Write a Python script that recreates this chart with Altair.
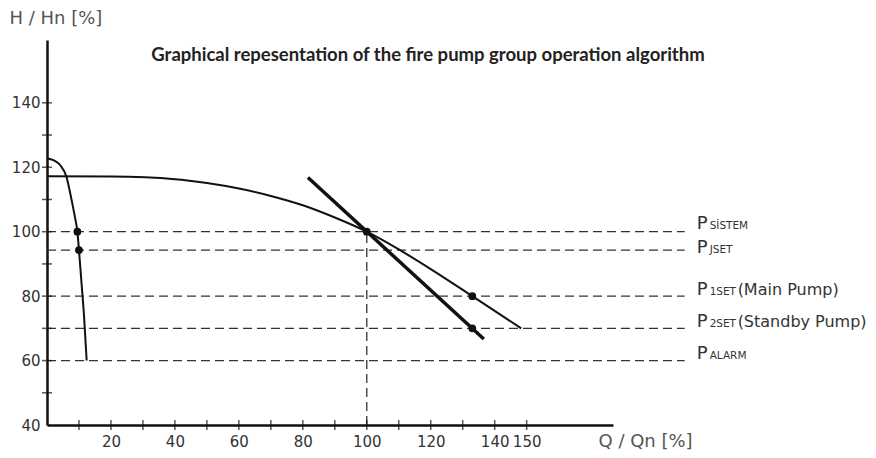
import altair as alt
import pandas as pd

# ---- data ----
title_text = ["Graphical repesentation of the fire pump group operation algorithm"]

steep_q = [0, 2, 4.1, 6.1, 7.7, 8.7, 9.5, 10.0, 10.8, 11.6, 12.4]
steep_h = [122.8, 122.2, 120.7, 117, 109.8, 104.7, 100, 94.3, 84, 73.6, 60]

pump_q = [0, 20, 40, 50, 60, 70, 80, 90, 100, 110, 120, 133, 148.3]
pump_h = [117.2, 117.1, 116.3, 115.1, 113.4, 111.1, 108.2, 104.4, 100, 94.5, 88.4, 80, 70]

sys_q = [81.6, 136.6]
sys_h = [116.8, 66.7]

dot_q = [9.5, 10.0, 100, 133, 133]
dot_h = [100, 94.3, 100, 80, 70]

level_h = [100, 94.3, 80, 70, 60]
label_h = [100.8, 93.4, 80.2, 70.4, 60.5]
level_sub = ["SİSTEM", "JSET", "1SET", "2SET", "ALARM"]
level_rest = ["", "", "(Main Pump)", "(Standby Pump)", ""]
level_end = 199.4

vline_q = 100
vline_h = [40, 100]

x_ticks = list(range(10, 160, 10))
x_labels = [20, 40, 60, 80, 100, 120, 140, 150]
y_ticks = list(range(50, 150, 10))
y_labels = [40, 60, 80, 100, 120, 140]

x_domain = [0, 177]
y_domain = [40, 159.5]

TFONT = "Lato, Roboto, sans-serif"
FONT = "DejaVu Sans, sans-serif"

xs = alt.Scale(domain=x_domain, nice=False, zero=False)
ys = alt.Scale(domain=y_domain, nice=False, zero=False)

steep_df = pd.DataFrame({"q": steep_q, "h": steep_h, "o": range(len(steep_q))})
pump_df = pd.DataFrame({"q": pump_q, "h": pump_h, "o": range(len(pump_q))})
sys_df = pd.DataFrame({"q": sys_q, "h": sys_h})
dot_df = pd.DataFrame({"q": dot_q, "h": dot_h})
lev_df = pd.DataFrame({"h": level_h, "lh": label_h, "q0": [0] * len(level_h),
                       "q1": [level_end] * len(level_h),
                       "p": ["P"] * len(level_h), "sub": level_sub, "rest": level_rest})
vl_df = pd.DataFrame({"q": [vline_q], "h0": [vline_h[0]], "h1": [vline_h[1]]})
xt_df = pd.DataFrame({"q": x_ticks, "h": [y_domain[0]] * len(x_ticks)})
yt_df = pd.DataFrame({"q": [0] * len(y_ticks), "h": y_ticks})
title_df = pd.DataFrame({"t": title_text})

axis_x = alt.Axis(values=x_labels, ticks=False, grid=False, domainColor="#111", domainWidth=2.5,
                  labelFont=FONT, labelFontSize=15, labelColor="#333", labelPadding=21,
                  labelBaseline="alphabetic",
                  labelOverlap=False, labelFlush=False,
                  title="Q / Qn [%]", titleFont=FONT, titleFontSize=18, titleFontWeight="normal",
                  titleColor="#555", titleAlign="left", titleBaseline="alphabetic", titleX=551, titleY=21,
                  titleAngle=0)
axis_y = alt.Axis(values=y_labels, ticks=False, grid=False, domainColor="#111", domainWidth=2.5,
                  labelFont=FONT, labelFontSize=15, labelColor="#333", labelPadding=7,
                  labelOverlap=False, labelFlush=False,
                  title="H / Hn [%]", titleFont=FONT, titleFontSize=18, titleFontWeight="normal",
                  titleColor="#555", titleAlign="left", titleBaseline="middle", titleX=-38, titleY=-22,
                  titleAngle=0)

levels = alt.Chart(lev_df).mark_rule(color="#333", strokeDash=[9, 5], strokeWidth=1.3).encode(
    x=alt.X("q0:Q", scale=xs, axis=axis_x), x2="q1", y=alt.Y("h:Q", scale=ys, axis=axis_y))

vline = alt.Chart(vl_df).mark_rule(color="#333", strokeDash=[9, 5], strokeWidth=1.3).encode(
    x=alt.X("q:Q", scale=xs), y=alt.Y("h0:Q", scale=ys), y2="h1")

steep = alt.Chart(steep_df).mark_line(color="#111", strokeWidth=2, interpolate="monotone").encode(
    x=alt.X("q:Q", scale=xs), y=alt.Y("h:Q", scale=ys), order="o")

pump = alt.Chart(pump_df).mark_line(color="#111", strokeWidth=2, interpolate="monotone").encode(
    x=alt.X("q:Q", scale=xs), y=alt.Y("h:Q", scale=ys), order="o")

sysl = alt.Chart(sys_df).mark_line(color="#111", strokeWidth=3.5).encode(
    x=alt.X("q:Q", scale=xs), y=alt.Y("h:Q", scale=ys))

dots = alt.Chart(dot_df).mark_circle(color="#111", size=60, opacity=1).encode(
    x=alt.X("q:Q", scale=xs), y=alt.Y("h:Q", scale=ys))

xt = alt.Chart(xt_df).mark_tick(color="#111", orient="vertical", size=10, thickness=1.5).encode(
    x=alt.X("q:Q", scale=xs), y=alt.Y("h:Q", scale=ys))
yt = alt.Chart(yt_df).mark_tick(color="#111", orient="horizontal", size=10, thickness=1.5).encode(
    x=alt.X("q:Q", scale=xs), y=alt.Y("h:Q", scale=ys))

lab_p = alt.Chart(lev_df).mark_text(align="left", baseline="alphabetic", dx=12,
                                    font=FONT, fontSize=18, color="#333").encode(
    x=alt.X("q1:Q", scale=xs), y=alt.Y("lh:Q", scale=ys), text="p")
lab_sub = alt.Chart(lev_df).mark_text(align="left", baseline="alphabetic", dx=25,
                                      font=FONT, fontSize=10.5, color="#333").encode(
    x=alt.X("q1:Q", scale=xs), y=alt.Y("lh:Q", scale=ys), text="sub")
lab_rest = alt.Chart(lev_df).mark_text(align="left", baseline="alphabetic", dx=53,
                                       font=FONT, fontSize=16, color="#333").encode(
    x=alt.X("q1:Q", scale=xs), y=alt.Y("lh:Q", scale=ys), text="rest")

title = alt.Chart(title_df).mark_text(align="center", baseline="middle", font=TFONT,
                                      fontSize=18.5, fontWeight="bold", color="#222").encode(
    x=alt.value(381), y=alt.value(15), text="t")

chart = alt.layer(levels, vline, steep, pump, sysl, dots, xt, yt, lab_p, lab_sub, lab_rest, title).properties(
    width=566, height=385,
    background="white",
    autosize=alt.AutoSizeParams(type="none"),
    padding={"left": 39, "top": 32, "right": 255, "bottom": 25},
).configure_view(strokeWidth=0, stroke="transparent")

chart.save("out.html", embed_options={"renderer": "svg", "actions": False})
